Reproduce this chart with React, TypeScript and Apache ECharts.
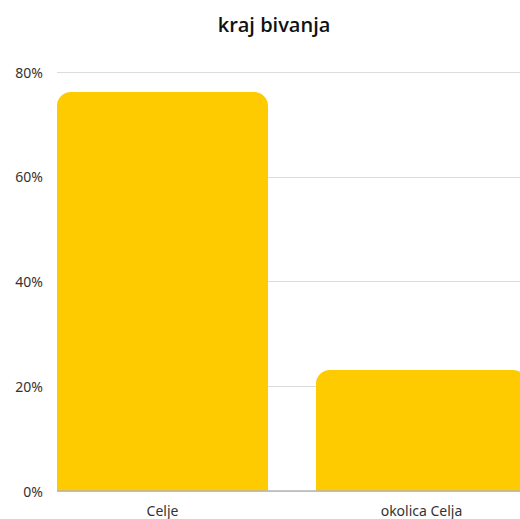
import React, { useEffect, useRef } from "react";
import * as echarts from "echarts";

const categories = ["Celje", "okolica Celja"];
const values = [76.2, 23.1];
const yTicks = [0, 20, 40, 60, 80];

export default function App() {
  const ref = useRef<HTMLDivElement>(null);
  useEffect(() => {
    document.body.style.margin = "0";
    const chart = echarts.init(ref.current!, null, { renderer: "svg" });
    chart.setOption({
      animation: false,
      title: {
        text: "kraj bivanja",
        left: 269,
        top: 9,
        textAlign: "center",
        textStyle: { fontFamily: "Open Sans", fontWeight: 600, fontSize: 20, color: "#111" },
      },
      grid: [
        { left: 57, right: 0, top: 72, bottom: 28, outerBoundsMode: "none" },
        { left: 33, width: 518, top: 72, bottom: 28, outerBoundsMode: "none", containLabel: false },
      ],
      xAxis: [
        { type: "category", gridIndex: 0, data: categories, show: false },
        {
          type: "category",
          gridIndex: 1,
          data: categories,
          axisTick: { show: false },
          axisLine: { show: false },
          axisLabel: { margin: 12, fontFamily: "Noto Sans", fontSize: 14, color: "#333" },
        },
      ],
      yAxis: [
        {
          type: "value",
          gridIndex: 0,
          min: yTicks[0],
          max: yTicks[yTicks.length - 1],
          interval: 20,
          axisLabel: {
            margin: 14,
            fontFamily: "Noto Sans",
            fontSize: 14,
            color: "#333",
            formatter: (v: number) => v + "%",
          },
          splitLine: { lineStyle: { color: "#dcdcdc" } },
          axisLine: { show: false },
          axisTick: { show: false },
        },
        {
          type: "value",
          gridIndex: 1,
          min: yTicks[0],
          max: yTicks[yTicks.length - 1],
          show: false,
          splitLine: { show: false },
        },
      ],
      series: [
        {
          type: "line",
          xAxisIndex: 0,
          yAxisIndex: 0,
          data: [],
          markLine: {
            silent: true,
            symbol: "none",
            label: { show: false },
            lineStyle: { color: "#b5b5b5", type: "solid", width: 1.5 },
            data: [{ yAxis: 0 }],
          },
        },
        {
          type: "bar",
          xAxisIndex: 1,
          yAxisIndex: 1,
          data: values,
          barWidth: 211,
          z: 3,
          itemStyle: { color: "#FECB00", borderRadius: [14, 14, 0, 0] },
        },
      ],
    });
    return () => chart.dispose();
  }, []);
  return <div ref={ref} style={{ width: 520, height: 519 }} />;
}
